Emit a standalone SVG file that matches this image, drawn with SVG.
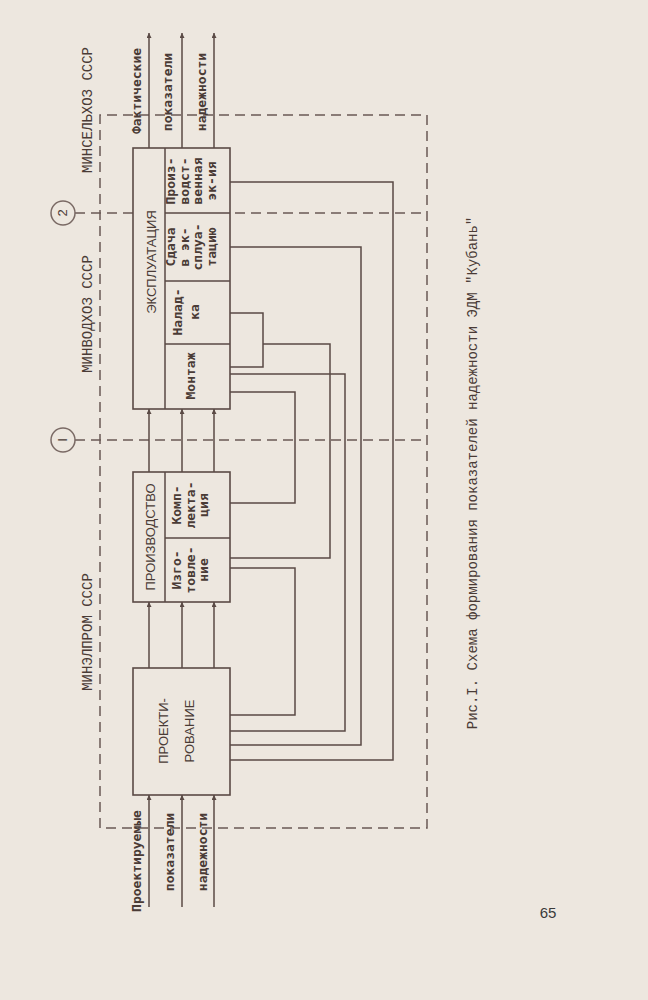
<svg xmlns="http://www.w3.org/2000/svg" width="648" height="1000" viewBox="0 0 648 1000">
<defs>
<style>
.bg{fill:#ede7df}
.box{fill:#ede7df;stroke:#5a4a45;stroke-width:1.6}
.ln{fill:none;stroke:#5a4a45;stroke-width:1.5}
.dash{fill:none;stroke:#6a5a55;stroke-width:1.5;stroke-dasharray:10 6}
.t{font-family:"DejaVu Sans Mono","Liberation Mono",monospace;font-weight:bold;font-size:13px;fill:#4a3b36;text-anchor:middle}
.tc{font-family:"Liberation Sans",sans-serif;font-size:13px;fill:#4a3b36;text-anchor:middle}
.cap{font-family:"Liberation Mono",monospace;font-size:14px;fill:#4a3b36;text-anchor:middle}
.circ{fill:none;stroke:#7a6a65;stroke-width:1.5}
</style>
<marker id="ah" viewBox="0 0 10 10" refX="10" refY="5" markerWidth="9" markerHeight="5" markerUnits="userSpaceOnUse" orient="auto">
<path d="M0,0 L10,5 L0,10 z" fill="#5a4a45"/>
</marker>
</defs>
<rect class="bg" x="0" y="0" width="648" height="1000"/>

<g id="boundary">
<path class="dash" d="M100,828 V115 H427 V828 H100"/>
<path class="dash" d="M75,213 H427"/>
<path class="dash" d="M75,440 H427"/>
</g>

<g id="connectors">
<path class="ln" d="M149,907 V795" marker-end="url(#ah)"/>
<path class="ln" d="M182,907 V795" marker-end="url(#ah)"/>
<path class="ln" d="M214,907 V795" marker-end="url(#ah)"/>
<path class="ln" d="M149,668 V602" marker-end="url(#ah)"/>
<path class="ln" d="M182,668 V602" marker-end="url(#ah)"/>
<path class="ln" d="M214,668 V602" marker-end="url(#ah)"/>
<path class="ln" d="M149,472 V409" marker-end="url(#ah)"/>
<path class="ln" d="M182,472 V409" marker-end="url(#ah)"/>
<path class="ln" d="M214,472 V409" marker-end="url(#ah)"/>
<path class="ln" d="M149,148 V33" marker-end="url(#ah)"/>
<path class="ln" d="M182,148 V33" marker-end="url(#ah)"/>
<path class="ln" d="M214,148 V33" marker-end="url(#ah)"/>
<path class="ln" d="M230,182 H393 V760 H230"/>
<path class="ln" d="M230,247 H361 V745 H230"/>
<path class="ln" d="M230,313 H263 V367 H230"/>
<path class="ln" d="M263,344 H330 V558 H230"/>
<path class="ln" d="M230,374 H345 V731 H230"/>
<path class="ln" d="M230,392 H295 V503 H230"/>
<path class="ln" d="M230,568 H295 V715 H230"/>
</g>

<g id="labels-io">
<text class="t" transform="translate(141,91) rotate(-90)">Фактические</text>
<text class="t" transform="translate(172,92) rotate(-90)">показатели</text>
<text class="t" transform="translate(206,92) rotate(-90)">надежности</text>
<text class="t" transform="translate(141,861) rotate(-90)">Проектируемые</text>
<text class="t" transform="translate(174,852) rotate(-90)">показатели</text>
<text class="t" transform="translate(207,852) rotate(-90)">надежности</text>
</g>

<g id="ministries">
<circle class="circ" cx="63" cy="213" r="12"/>
<text class="tc" transform="translate(67,213) rotate(-90)">2</text>
<circle class="circ" cx="63" cy="440" r="12"/>
<text class="tc" transform="translate(67,440) rotate(-90)">I</text>
<text class="cap" transform="translate(92,110) rotate(-90)">МИНСЕЛЬХОЗ СССР</text>
<text class="cap" transform="translate(92,314) rotate(-90)">МИНВОДХОЗ СССР</text>
<text class="cap" transform="translate(92,632) rotate(-90)">МИНЭЛПРОМ СССР</text>
</g>

<g id="exploitation">
<rect class="box" x="133" y="148" width="97" height="261"/>
<path class="ln" d="M165,148 V409 M165,213 H230 M165,281 H230 M165,344 H230"/>
<text class="tc" transform="translate(156,262) rotate(-90)">ЭКСПЛУАТАЦИЯ</text>
<text class="t" transform="translate(175,181) rotate(-90)"><tspan x="0" dy="0">Произ-</tspan><tspan x="0" dy="13.5">водст-</tspan><tspan x="0" dy="13.5">венная</tspan><tspan x="0" dy="13.5">эк-ия</tspan></text>
<text class="t" transform="translate(175,247) rotate(-90)"><tspan x="0" dy="0">Сдача</tspan><tspan x="0" dy="13.5">в эк-</tspan><tspan x="0" dy="13.5">сплуа-</tspan><tspan x="0" dy="13.5">тацию</tspan></text>
<text class="t" transform="translate(182,312) rotate(-90)"><tspan x="0" dy="0">Налад-</tspan><tspan x="0" dy="17">ка</tspan></text>
<text class="t" transform="translate(195,376) rotate(-90)">Монтаж</text>
</g>

<g id="production">
<rect class="box" x="133" y="472" width="97" height="130"/>
<path class="ln" d="M165,472 V602 M165,538 H230"/>
<text class="tc" transform="translate(155,537) rotate(-90)">ПРОИЗВОДСТВО</text>
<text class="t" transform="translate(181,505) rotate(-90)"><tspan x="0" dy="0">Комп-</tspan><tspan x="0" dy="13.5">лекта-</tspan><tspan x="0" dy="13.5">ция</tspan></text>
<text class="t" transform="translate(181,570) rotate(-90)"><tspan x="0" dy="0">Изго-</tspan><tspan x="0" dy="13.5">товле-</tspan><tspan x="0" dy="13.5">ние</tspan></text>
</g>

<g id="design">
<rect class="box" x="133" y="668" width="97" height="127"/>
<text class="tc" transform="translate(168,731) rotate(-90)"><tspan x="0" dy="0">ПРОЕКТИ-</tspan><tspan x="0" dy="26">РОВАНИЕ</tspan></text>
</g>

<g id="caption">
<text class="cap" transform="translate(477,473) rotate(-90)">Рис.I. Схема формирования показателей надежности ЭДМ "Кубань"</text>
<text x="548" y="918" font-family="Liberation Sans, sans-serif" font-size="15" fill="#3a3a3a" text-anchor="middle">65</text>
</g>
</svg>
